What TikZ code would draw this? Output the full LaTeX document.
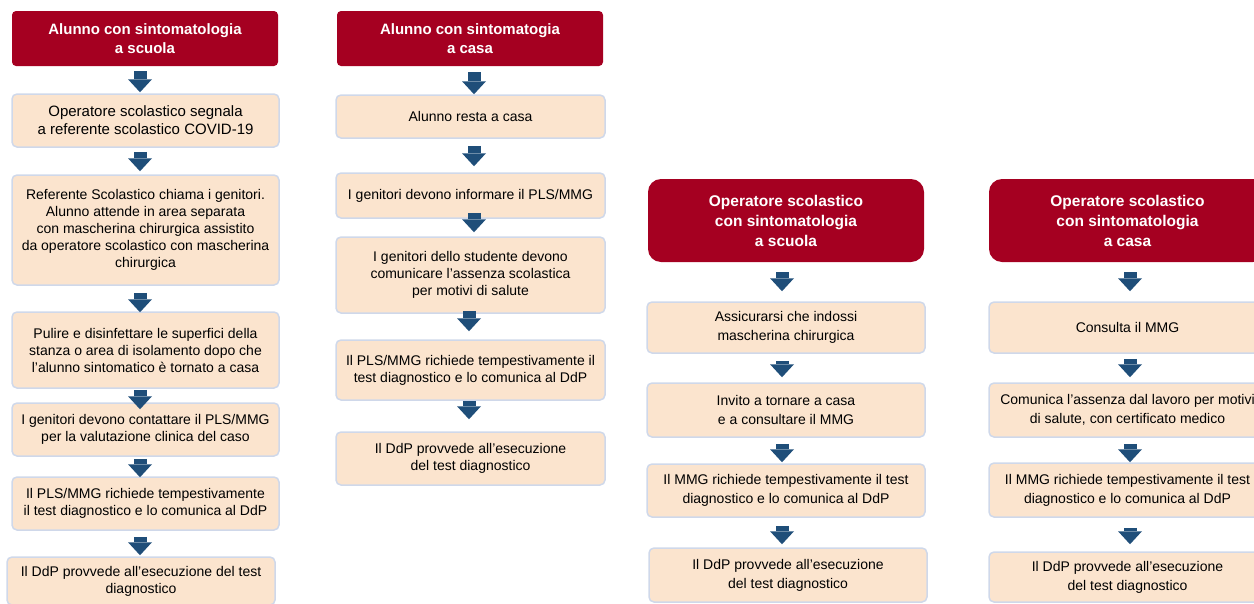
\documentclass[tikz,border=0pt]{standalone}
\usepackage{fontspec}
\setmainfont{Liberation Sans}
\usetikzlibrary{arrows.meta}

\definecolor{headred}{RGB}{165,0,33}
\definecolor{cardfill}{RGB}{251,228,206}
\definecolor{cardline}{RGB}{207,216,234}
\definecolor{flowblue}{RGB}{31,78,121}

\begin{document}
\begin{tikzpicture}[x=1pt, y=-1pt,
        head/.style = {fill=headred, text=white, rounded corners=4pt,
            align=center, inner sep=0pt,
            font=\bfseries\fontsize{15}{19}\selectfont},
        headwide/.style = {head, rounded corners=13pt,
            font=\bfseries\fontsize{15.5}{20}\selectfont},
        card/.style = {draw=cardline, line width=1.5pt, fill=cardfill,
            rounded corners=5pt, align=center, inner sep=0pt,
            font=\fontsize{14}{17}\selectfont},
        cardtall/.style = {card, font=\fontsize{14}{19}\selectfont},
        flow/.style = {draw=flowblue, line width=13pt,
            -{Triangle[width=24pt, length=13pt, line width=0pt]}}
    ]

        % Page frame, the right column runs off the edge.
        \useasboundingbox (0,0) rectangle (1254,603);
        \clip (0,0) rectangle (1254,603);

        % Positions of the arrow columns.
        \coordinate (x1) at (140,0);
        \coordinate (x2) at (474,0);
        \coordinate (x2b) at (469,0);
        \coordinate (x3) at (782,0);
        \coordinate (x4) at (1130,0);

        % First column: pupil at school.
        \node[head, minimum width=266pt, minimum height=55pt] (h1) at (145,38.5)
            {Alunno con sintomatologia\\a scuola};
        \node[card, minimum width=267pt, minimum height=53pt,
            font=\fontsize{15}{18}\selectfont] (c1a) at (145.5,120.5)
            {Operatore scolastico segnala\\a referente scolastico COVID-19};
        \node[card, minimum width=267pt, minimum height=110pt] (c1b) at (145.5,230)
            {Referente Scolastico chiama i genitori.\\Alunno attende in area separata\\
             con mascherina chirurgica assistito\\da operatore scolastico con mascherina\\
             chirurgica};
        \node[card, minimum width=267pt, minimum height=76pt] (c1c) at (145.5,350)
            {Pulire e disinfettare le superfici della\\stanza o area di isolamento dopo che\\
             l’alunno sintomatico è tornato a casa};
        \node[card, minimum width=267pt, minimum height=53pt] (c1d) at (145.5,429.5)
            {I genitori devono contattare il PLS/MMG\\per la valutazione clinica del caso};
        \node[card, minimum width=267pt, minimum height=53pt] (c1e) at (145.5,503.5)
            {Il PLS/MMG richiede tempestivamente\\il test diagnostico e lo comunica al DdP};
        \node[card, minimum width=268pt, minimum height=48pt] (c1f) at (141,581)
            {Il DdP provvede all’esecuzione del test\\diagnostico};

        \draw[flow, shorten <=5pt, shorten >=1pt] (h1.south -| x1) -- (c1a.north -| x1);
        \draw[flow, shorten <=4pt, shorten >=3pt] (c1a.south -| x1) -- (c1b.north -| x1);
        \draw[flow, shorten <=7pt, shorten >=-1pt] (c1b.south -| x1) -- (c1c.north -| x1);
        \draw[flow, shorten <=1pt, shorten >=-7pt] (c1c.south -| x1) -- (c1d.north -| x1);
        \draw[flow, shorten <=2pt, shorten >=-1pt] (c1d.south -| x1) -- (c1e.north -| x1);
        \draw[flow, shorten <=6pt, shorten >=1pt] (c1e.south -| x1) -- (c1f.north -| x1);

        % Second column: pupil at home.
        \node[head, minimum width=266pt, minimum height=55pt] (h2) at (470,38.5)
            {Alunno con sintomatogia\\a casa};
        \node[card, minimum width=269pt, minimum height=43pt] (c2a) at (470.5,116.5)
            {Alunno resta a casa};
        \node[card, minimum width=269pt, minimum height=45pt] (c2b) at (470.5,195.5)
            {I genitori devono informare il PLS/MMG};
        \node[card, minimum width=269pt, minimum height=76pt] (c2c) at (470.5,275)
            {I genitori dello studente devono\\comunicare l’assenza scolastica\\
             per motivi di salute};
        \node[card, minimum width=269pt, minimum height=60pt] (c2d) at (470.5,370)
            {Il PLS/MMG richiede tempestivamente il\\test diagnostico e lo comunica al DdP};
        \node[card, minimum width=269pt, minimum height=53pt] (c2e) at (470.5,458.5)
            {Il DdP provvede all’esecuzione\\del test diagnostico};

        \draw[flow, shorten <=6pt, shorten >=0pt] (h2.south -| x2) -- (c2a.north -| x2);
        \draw[flow, shorten <=7pt, shorten >=6pt] (c2a.south -| x2) -- (c2b.north -| x2);
        \draw[flow, shorten <=-6pt, shorten >=4pt] (c2b.south -| x2) -- (c2c.north -| x2);
        \draw[flow, shorten <=-3pt, shorten >=8pt] (c2c.south -| x2b) -- (c2d.north -| x2b);
        \draw[flow, shorten <=0pt, shorten >=12pt] (c2d.south -| x2b) -- (c2e.north -| x2b);

        % Third column: staff member at school.
        \node[headwide, minimum width=276pt, minimum height=83pt] (h3) at (786,220.5)
            {Operatore scolastico\\con sintomatologia\\a scuola};
        \node[cardtall, minimum width=278pt, minimum height=51pt] (c3a) at (786,327.5)
            {Assicurarsi che indossi\\mascherina chirurgica};
        \node[cardtall, minimum width=278pt, minimum height=54pt] (c3b) at (786,410)
            {Invito a tornare a casa\\e a consultare il MMG};
        \node[cardtall, minimum width=278pt, minimum height=53pt] (c3c) at (786,490.5)
            {Il MMG richiede tempestivamente il test\\diagnostico e lo comunica al DdP};
        \node[cardtall, minimum width=278pt, minimum height=54pt] (c3d) at (788,575)
            {Il DdP provvede all’esecuzione\\del test diagnostico};

        \draw[flow, shorten <=10pt, shorten >=10pt] (h3.south -| x3) -- (c3a.north -| x3);
        \draw[flow, shorten <=7pt, shorten >=5pt] (c3a.south -| x3) -- (c3b.north -| x3);
        \draw[flow, shorten <=6pt, shorten >=1pt] (c3b.south -| x3) -- (c3c.north -| x3);
        \draw[flow, shorten <=8pt, shorten >=3pt] (c3c.south -| x3) -- (c3d.north -| x3);

        % Fourth column: staff member at home.
        \node[headwide, minimum width=277pt, minimum height=83pt] (h4) at (1127.5,220.5)
            {Operatore scolastico\\con sintomatologia\\a casa};
        \node[cardtall, minimum width=277pt, minimum height=51pt] (c4a) at (1127.5,327.5)
            {Consulta il MMG};
        \node[cardtall, minimum width=277pt, minimum height=54pt] (c4b) at (1127.5,410)
            {Comunica l’assenza dal lavoro per motivi\\di salute, con certificato medico};
        \node[cardtall, minimum width=277pt, minimum height=54pt] (c4c) at (1127.5,490)
            {Il MMG richiede tempestivamente il test\\diagnostico e lo comunica al DdP};
        \node[cardtall, minimum width=277pt, minimum height=50pt] (c4d) at (1127.5,577)
            {Il DdP provvede all’esecuzione\\del test diagnostico};

        \draw[flow, shorten <=10pt, shorten >=10pt] (h4.south -| x4) -- (c4a.north -| x4);
        \draw[flow, shorten <=5pt, shorten >=5pt] (c4a.south -| x4) -- (c4b.north -| x4);
        \draw[flow, shorten <=6pt, shorten >=0pt] (c4b.south -| x4) -- (c4c.north -| x4);
        \draw[flow, shorten <=10pt, shorten >=7pt] (c4c.south -| x4) -- (c4d.north -| x4);
    \end{tikzpicture}
\end{document}
